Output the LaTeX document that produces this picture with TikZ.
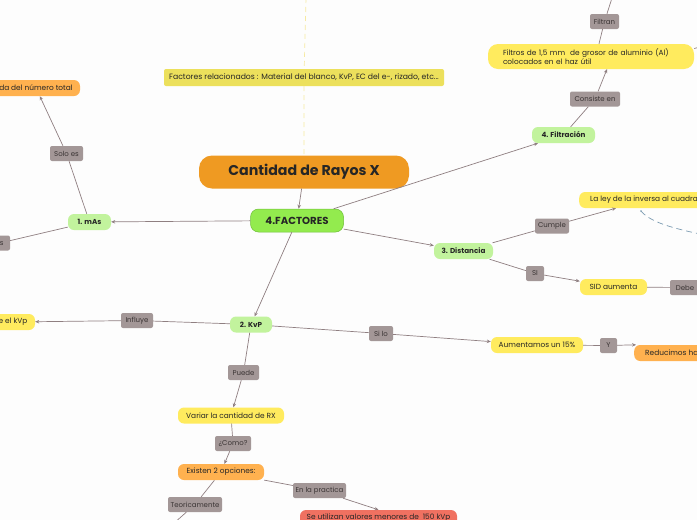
\documentclass[tikz,border=0pt]{standalone}
\usepackage{fontspec}
\setmainfont{Poppins}
\usetikzlibrary{arrows.meta}
\definecolor{linkc}{HTML}{8F7F81}
\definecolor{lblc}{HTML}{A39797}
\definecolor{lbltext}{HTML}{3A3434}
\definecolor{centralc}{HTML}{EF9A22}
\definecolor{factc}{HTML}{93EB4E}
\definecolor{factb}{HTML}{6FBF38}
\definecolor{subc}{HTML}{C2F39D}
\definecolor{yelc}{HTML}{FFEB5E}
\definecolor{notec}{HTML}{ECE05C}
\definecolor{oranc}{HTML}{FFB14F}
\definecolor{redc}{HTML}{F07161}
\definecolor{dashy}{HTML}{F6EAA2}
\definecolor{dashb}{HTML}{7C9CB2}
\definecolor{bgc}{HTML}{FDFDFD}
\tikzset{
  base/.style={inner sep=0pt, text=black!85, align=center},
  central/.style={base, fill=centralc, rounded corners=13pt, minimum width=210pt, minimum height=33pt, font=\fontsize{14.2}{16}\selectfont\bfseries},
  fact/.style={base, fill=factc, draw=factb, line width=0.5pt, rounded corners=8pt, minimum width=93pt, minimum height=23pt, font=\fontsize{10.2}{11}\selectfont\bfseries},
  note/.style={base, fill=notec, rounded corners=2pt, minimum width=280pt, minimum height=17pt, font=\fontsize{7.7}{9}\selectfont},
  sub/.style={base, fill=subc, rounded corners=6pt, minimum height=16pt, font=\fontsize{7.2}{8}\selectfont\bfseries},
  yel/.style={base, fill=yelc, rounded corners=6pt, minimum height=16pt, font=\fontsize{7.4}{9}\selectfont},
  oran/.style={base, fill=oranc, rounded corners=6pt, minimum height=16pt, font=\fontsize{7.4}{9}\selectfont},
  redn/.style={base, fill=redc, rounded corners=6pt, minimum height=16pt, font=\fontsize{7.4}{9}\selectfont},
  lbl/.style={base, fill=lblc, text=lbltext, rounded corners=2pt, minimum height=15pt, font=\fontsize{7}{8}\selectfont},
  conn/.style={draw=linkc, line width=0.7pt},
  arr/.style={conn, -{Stealth[length=4pt,width=3.5pt]}},
}
\begin{document}
\begin{tikzpicture}[x=1pt,y=-1pt]
\useasboundingbox (0,0) rectangle (697,520);
\fill[bgc] (0,0) rectangle (697,520);
\clip (0,0) rectangle (697,520);
% nodes
\node[central] (c) at (304,172) {Cantidad de Rayos X};
\node[fact] (f) at (297,220.5) {4.FACTORES};
\node[note] (n) at (304,77.5) {Factores relacionados : Material del blanco, KvP, EC del e-, rizado, etc...};
\coordinate (top) at (306,-2);

\node[sub, minimum width=43pt] (mas) at (89.5,222) {1. mAs};
\node[lbl, minimum width=33pt] (solo) at (66.5,153.5) {Solo es};
\node[oran, minimum width=88pt] (tot) at (36,88) {da del número total};
\node[lbl, minimum width=20pt] (es) at (0,243) {Es};

\node[sub, minimum width=42pt] (kvp) at (251,324.5) {2. KvP};
\node[lbl, minimum width=32pt] (inf) at (137,320.5) {Influye};
\node[yel, minimum width=44pt] (kvpl) at (13,322) {e el kVp};
\node[lbl, minimum width=31pt] (pue) at (243.5,372.5) {Puede};
\node[yel, minimum width=106pt] (var) at (231,415.5) {Variar la cantidad de RX};
\node[lbl, minimum width=36pt] (como) at (233,443.5) {¿Como?};
\node[oran, minimum width=86pt] (exi) at (221,472) {Existen 2 opciones:};
\node[lbl, minimum width=53pt] (prac) at (319.5,490.5) {En la practica};
\node[redn, minimum width=157pt] (util) at (378.5,518) {Se utilizan valores menores de \ 150 kVp};
\node[lbl, minimum width=54pt] (teo) at (195,504.5) {Teoricamente};
\coordinate (teoend) at (173,524);

\node[sub, minimum width=59pt] (dist) at (463.5,251) {3. Distancia};
\node[lbl, minimum width=34pt] (cum) at (552,226) {Cumple};
\node[yel, anchor=west, inner xsep=11pt] (ley) at (579,200) {La ley de la inversa al cuadrado};
\coordinate (d1) at (641,211);
\coordinate (d2) at (700,234);
\node[lbl, minimum width=18pt] (si) at (535,273.5) {SI};
\node[yel, minimum width=67pt] (sid) at (613.5,287) {SID aumenta};
\node[lbl, minimum width=30pt] (debe) at (685,287.5) {Debe};

\node[lbl, minimum width=24pt] (silo) at (381,333.5) {Si lo};
\node[yel, minimum width=92pt] (aum) at (537,345) {Aumentamos un 15\%};
\node[lbl, minimum width=17pt] (yy) at (608.5,345.5) {Y};
\node[oran, anchor=west, inner xsep=11pt] (redu) at (634,353) {Reducimos hasta};

\node[sub, minimum width=63pt] (fil) at (563.5,135) {4. Filtración};
\node[lbl, minimum width=50pt] (cons) at (595,99) {Consiste en};
\node[yel, minimum width=206pt, minimum height=25pt, rounded corners=10pt, text width=176pt, align=left, font=\fontsize{7.4}{8.6}\selectfont] (filt) at (591,56.5) {Filtros de 1,5 mm \ de grosor de aluminio (Al)\\colocados en el haz útil};
\node[lbl, minimum width=29pt] (ftr) at (604.5,21.5) {Filtran};
\coordinate (ftop) at (612,-2);
\coordinate (fright) at (700,47);

% connectors
\draw[dashy, dashed, line width=0.7pt, dash pattern=on 5pt off 4pt] (top) -- (n) -- (c);
\draw[arr] (c) -- (f);
\draw[arr] (f) -- (mas);
\draw[conn] (mas) -- (solo);
\draw[arr] (solo) -- (tot);
\draw[conn] (mas) -- (es);
\draw[arr] (f) -- (kvp);
\draw[conn] (kvp) -- (inf);
\draw[arr] (inf) -- (kvpl);
\draw[conn] (kvp) -- (pue);
\draw[arr] (pue) -- (var);
\draw[conn] (var) -- (como);
\draw[arr] (como) -- (exi);
\draw[conn] (exi) -- (prac);
\draw[arr] (prac) -- (util.north);
\draw[conn] (exi) -- (teo);
\draw[conn] (teo) -- (teoend);
\draw[arr] (f) -- (dist);
\draw[conn] (dist) -- (cum);
\draw[arr] (cum) -- (ley.south west -| 616,0);
\draw[dashb, dashed, line width=0.7pt, dash pattern=on 6pt off 4pt] (d1) .. controls (650,222) and (672,228) .. (d2);
\fill[dashb] (d1) circle (0.8pt);
\draw[conn] (dist) -- (si);
\draw[arr] (si) -- (sid);
\draw[conn] (sid) -- (debe);
\draw[conn] (kvp) -- (silo);
\draw[arr] (silo) -- (aum);
\draw[conn] (aum) -- (yy);
\draw[arr] (yy) -- (redu.north west -| 636,0);
\draw[arr] (f) -- (fil);
\draw[conn] (fil) -- (cons);
\draw[arr] (cons) -- (filt.south -| 607,0);
\draw[conn] (filt.north -| 599,0) -- (ftr);
\draw[conn] (ftr) -- (ftop);
\draw[conn] (filt.east) ++(0,-8) -- (fright);
\end{tikzpicture}
\end{document}
